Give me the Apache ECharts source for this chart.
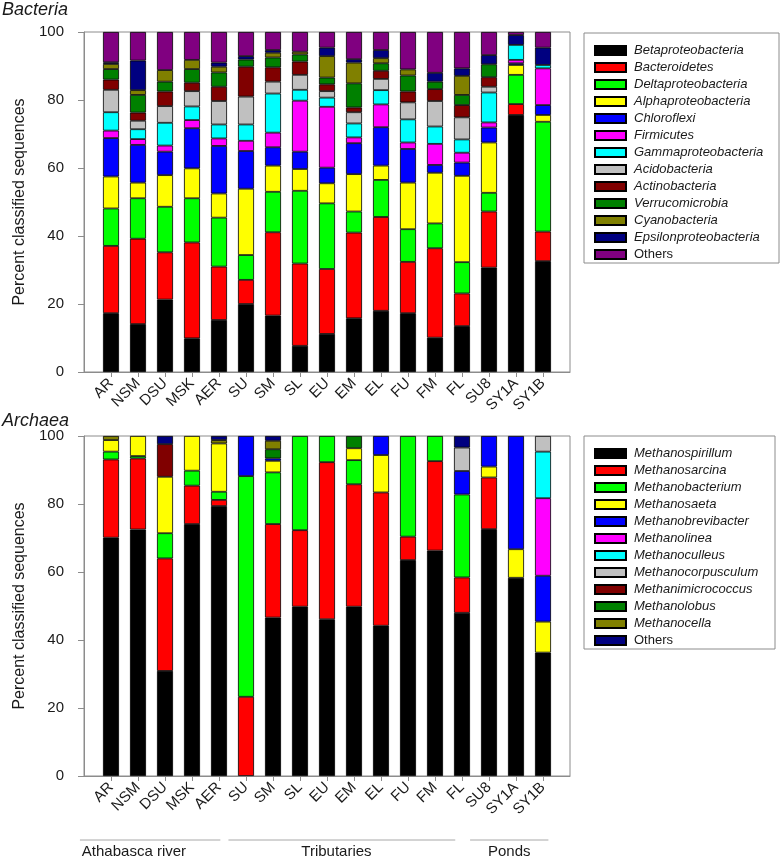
<!DOCTYPE html>
<html>
<head>
<meta charset="utf-8">
<script src="https://cdn.jsdelivr.net/npm/echarts@6/dist/echarts.min.js"></script>
<style>
html,body{margin:0;padding:0;background:#fff;}
#c{width:782px;height:860px;}
</style>
</head>
<body>
<div id="c"></div>
<script>
// ---------- data ----------
const sites = ['AR','NSM','DSU','MSK','AER','SU','SM','SL','EU','EM','EL','FU','FM','FL','SU8','SY1A','SY1B'];
const yTicks = [0, 20, 40, 60, 80, 100];

const bacteriaNames = ['Betaproteobacteria','Bacteroidetes','Deltaproteobacteria','Alphaproteobacteria','Chloroflexi','Firmicutes','Gammaproteobacteria','Acidobacteria','Actinobacteria','Verrucomicrobia','Cyanobacteria','Epsilonproteobacteria','Others'];
const betaproteobacteria    = [17.3,14.1,21.3, 9.9,15.3,20.0,16.6, 7.7,11.2,15.8,18.0,17.3,10.1,13.5,30.7,75.6,32.6];
const bacteroidetes         = [19.8,25.1,13.9,28.2,15.7, 7.1,24.5,24.2,19.1,25.2,27.6,15.1,26.3, 9.6,16.5, 3.2, 8.7];
const deltaproteobacteria   = [11.0,11.9,13.4,13.0,14.4, 7.3,11.9,21.4,19.3, 6.2,10.9, 9.6, 7.3, 9.2, 5.5, 8.6,32.3];
const alphaproteobacteria   = [ 9.4, 4.6, 9.3, 8.8, 7.1,19.5, 7.7, 6.4, 5.9,11.0, 4.2,13.7,14.9,25.4,14.8, 2.9, 2.0];
const chloroflexi           = [11.3,11.1, 6.9,11.8,14.0,11.1, 5.4, 5.1, 4.6, 9.1,11.3, 9.9, 2.3, 3.9, 4.4, 0.5, 2.9];
const firmicutes            = [ 2.2, 1.7, 1.8, 2.4, 2.2, 3.0, 4.3,15.0,17.9, 1.7, 6.7, 1.9, 6.2, 2.9, 1.5, 1.0,10.8];
const gammaproteobacteria   = [ 5.4, 2.9, 6.7, 4.0, 4.1, 4.8,11.5, 3.2, 2.7, 4.1, 4.2, 6.8, 5.1, 3.9, 8.8, 4.4, 1.0];
const acidobacteria         = [ 6.6, 2.5, 4.9, 4.5, 6.9, 8.2, 3.5, 4.4, 1.9, 3.3, 3.3, 5.0, 7.5, 6.5, 1.7, 0, 0];
const actinobacteria        = [ 3.0, 2.4, 4.3, 2.5, 4.2, 8.8, 4.2, 3.9, 2.0, 1.4, 2.4, 3.2, 3.5, 3.6, 2.8, 0, 0];
const verrucomicrobia       = [ 3.1, 5.2, 2.9, 4.0, 4.2, 2.1, 2.9, 2.1, 2.0, 7.1, 2.2, 4.7, 2.2, 3.0, 3.8, 0, 0];
const cyanobacteria         = [ 1.5, 1.4, 3.4, 2.7, 1.7, 0, 1.4, 0.8, 6.3, 6.1, 1.5, 1.8, 0, 5.6, 0, 0, 0];
const epsilonproteobacteria = [ 0.5, 8.7, 0, 0, 1.2, 1.0, 0.8, 0, 2.5, 1.0, 2.4, 0, 2.6, 2.2, 2.7, 2.9, 5.1];
const bacteriaOthers        = [ 8.9, 8.4,11.2, 8.2, 9.0, 7.1, 5.3, 5.8, 4.6, 8.0, 5.3,11.0,12.0,10.7, 6.8, 0.9, 4.6];

const archaeaNames = ['Methanospirillum','Methanosarcina','Methanobacterium','Methanosaeta','Methanobrevibacter','Methanolinea','Methanoculleus','Methanocorpusculum','Methanimicrococcus','Methanolobus','Methanocella','Others'];
const methanospirillum   = [70.1,72.5,30.9,74.1,79.4, 0,46.6,49.8,46.1,49.8,44.2,63.5,66.3,48.0,72.6,58.3,36.3];
const methanosarcina     = [23.0,20.9,33.1,11.3, 1.8,23.3,27.5,22.5,46.2,36.0,39.2, 6.9,26.3,10.4,15.2, 0, 0];
const methanobacterium   = [ 2.3, 0.7, 7.4, 4.4, 2.4,64.9,15.2,27.7, 7.7, 7.1, 0,29.6, 7.4,24.4, 0, 0, 0];
const methanosaeta       = [ 3.4, 5.9,16.6,10.2,14.2, 0, 3.4, 0, 0, 3.5,11.0, 0, 0, 0, 3.2, 8.4, 9.1];
const methanobrevibacter = [ 0, 0, 0, 0, 0,11.8, 0.7, 0, 0, 0, 5.6, 0, 0, 6.9, 9.0,33.3,13.5];
const methanolinea       = [ 0, 0, 0, 0, 0, 0, 0, 0, 0, 0, 0, 0, 0, 0, 0, 0,22.8];
const methanoculleus     = [ 0, 0, 0, 0, 0, 0, 0, 0, 0, 0, 0, 0, 0, 0, 0, 0,13.7];
const methanocorpusculum = [ 0, 0, 0, 0, 0, 0, 0, 0, 0, 0, 0, 0, 0, 6.9, 0, 0, 4.6];
const methanimicrococcus = [ 0, 0, 9.6, 0, 0, 0, 0, 0, 0, 0, 0, 0, 0, 0, 0, 0, 0];
const methanolobus       = [ 0, 0, 0, 0, 0, 0, 2.7, 0, 0, 3.6, 0, 0, 0, 0, 0, 0, 0];
const methanocella       = [ 1.2, 0, 0, 0, 1.0, 0, 2.5, 0, 0, 0, 0, 0, 0, 0, 0, 0, 0];
const archaeaOthers      = [ 0, 0, 2.4, 0, 1.2, 0, 1.4, 0, 0, 0, 0, 0, 0, 3.4, 0, 0, 0];

const groups = ['Athabasca river','Tributaries','Ponds'];

// ---------- build ----------
const palette = ['#000000','#ff0000','#00ff00','#ffff00','#0000ff','#ff00ff','#00ffff','#c0c0c0','#800000','#008000','#808000','#000080','#800080'];
const archPalette = palette.slice(0, 11).concat(['#000080']);

const bacteriaData = [betaproteobacteria,bacteroidetes,deltaproteobacteria,alphaproteobacteria,chloroflexi,firmicutes,gammaproteobacteria,acidobacteria,actinobacteria,verrucomicrobia,cyanobacteria,epsilonproteobacteria,bacteriaOthers];
const archaeaData = [methanospirillum,methanosarcina,methanobacterium,methanosaeta,methanobrevibacter,methanolinea,methanoculleus,methanocorpusculum,methanimicrococcus,methanolobus,methanocella,archaeaOthers];

const axisCats = [''].concat(sites, ['']);
const pad = arr => [null].concat(arr.map(v => v === 0 ? null : v), [null]);

const FONT = '"Liberation Sans", Arial, sans-serif';
const TXT = '#1a1a1a';
const AX = '#8c8c8c';

const ARCH_OTHERS_KEY = 'Others\u2009';
const bacSeries = bacteriaNames.map((n, i) => ({
  name: n, type: 'bar', stack: 'bac', xAxisIndex: 0, yAxisIndex: 0,
  barWidth: 16, data: pad(bacteriaData[i]),
  itemStyle: { color: palette[i], borderColor: '#000', borderWidth: 0.8 },
  emphasis: { disabled: true }
}));
const archSeries = archaeaNames.map((n, i) => ({
  name: n === 'Others' ? ARCH_OTHERS_KEY : n, type: 'bar', stack: 'arc', xAxisIndex: 1, yAxisIndex: 1,
  barWidth: 16, data: pad(archaeaData[i]),
  itemStyle: { color: archPalette[i], borderColor: '#000', borderWidth: 0.8 },
  emphasis: { disabled: true }
}));

function xAxis(gridIndex) {
  return {
    type: 'category', gridIndex, data: axisCats, boundaryGap: false,
    axisLine: { lineStyle: { color: AX, width: 1 } },
    axisTick: { length: 5, lineStyle: { color: AX }, interval: (i) => i > 0 && i < axisCats.length - 1 },
    axisLabel: { rotate: 45, interval: 0, fontSize: 15, color: TXT, fontFamily: FONT, margin: 9 },
    splitLine: { show: false }
  };
}
function yAxis(gridIndex) {
  return {
    type: 'value', gridIndex, min: yTicks[0], max: yTicks[yTicks.length - 1], interval: yTicks[1] - yTicks[0],
    name: 'Percent classified sequences', nameLocation: 'middle', nameGap: 47,
    nameTextStyle: { fontSize: 16, color: TXT, fontFamily: FONT },
    axisLine: { show: true, lineStyle: { color: AX, width: 1 } },
    axisTick: { show: true, length: 6, lineStyle: { color: AX } },
    axisLabel: { fontSize: 15, color: TXT, fontFamily: FONT, margin: 20 },
    splitLine: { show: false }
  };
}

function legend(names, top, left) {
  return {
    orient: 'vertical', left, top, itemWidth: 31, itemHeight: 9, itemGap: 0,
    padding: 0, selectedMode: false, icon: 'rect',
    data: names,
    formatter: n => n.trim() === 'Others' ? '{n|Others}' : '{i|' + n + '}',
    textStyle: {
      fontFamily: FONT, fontSize: 13, color: TXT, lineHeight: 17, padding: [0, 0, 0, 3],
      rich: {
        i: { fontStyle: 'italic', fontFamily: FONT, fontSize: 13, color: TXT, lineHeight: 17 },
        n: { fontStyle: 'normal', fontFamily: FONT, fontSize: 13, color: TXT, lineHeight: 17 }
      }
    }
  };
}

const chart = echarts.init(document.getElementById('c'), null, { renderer: 'canvas' });
chart.setOption({
  animation: false,
  backgroundColor: '#fff',
  title: [
    { text: 'Bacteria', left: 2, top: 1, padding: 0, textStyle: { fontFamily: FONT, fontSize: 18, fontStyle: 'italic', fontWeight: 'normal', color: TXT } },
    { text: 'Archaea', left: 2, top: 412, padding: 0, textStyle: { fontFamily: FONT, fontSize: 18, fontStyle: 'italic', fontWeight: 'normal', color: TXT } }
  ],
  grid: [
    { left: 84, top: 32, width: 486, height: 340, show: true, borderColor: AX, borderWidth: 1, containLabel: false },
    { left: 84, top: 436, width: 486, height: 340, show: true, borderColor: AX, borderWidth: 1, containLabel: false }
  ],
  xAxis: [xAxis(0), xAxis(1)],
  yAxis: [yAxis(0), yAxis(1)],
  legend: [
    legend(bacteriaNames, 42, 594),
    legend(archaeaNames.map(n => n === 'Others' ? ARCH_OTHERS_KEY : n), 445, 594)
  ],
  series: bacSeries.concat(archSeries)
});

// boxes around the legends and group brackets under the lower axis (positioned from the axis scale)
const gy = 840;
const p0 = chart.convertToPixel({ xAxisIndex: 1 }, 0);
const p1 = chart.convertToPixel({ xAxisIndex: 1 }, 1);
const px = i => p0 + (p1 - p0) * i;
const spans = [[-0.15, 5.05], [5.35, 13.75], [14.3, 17.2]];
const textAt = [1.85, 9.35, 15.75];
const extra = [
  { type: 'rect', shape: { x: 584, y: 33, width: 195, height: 230 }, style: { fill: 'none', stroke: AX, lineWidth: 1 } },
  { type: 'rect', shape: { x: 584, y: 436, width: 191, height: 213 }, style: { fill: 'none', stroke: AX, lineWidth: 1 } }
];
spans.forEach((s, k) => {
  const x1 = px(s[0]), x2 = px(s[1]);
  extra.push({ type: 'line', shape: { x1, y1: gy, x2, y2: gy }, style: { stroke: '#a8a8a8', lineWidth: 1 } });
  extra.push({ type: 'text', x: px(textAt[k]), y: gy + 12, style: { text: groups[k], fill: TXT, font: '15px ' + FONT, textAlign: 'center', textVerticalAlign: 'middle' } });
});
chart.setOption({ graphic: extra });
</script>
</body>
</html>
